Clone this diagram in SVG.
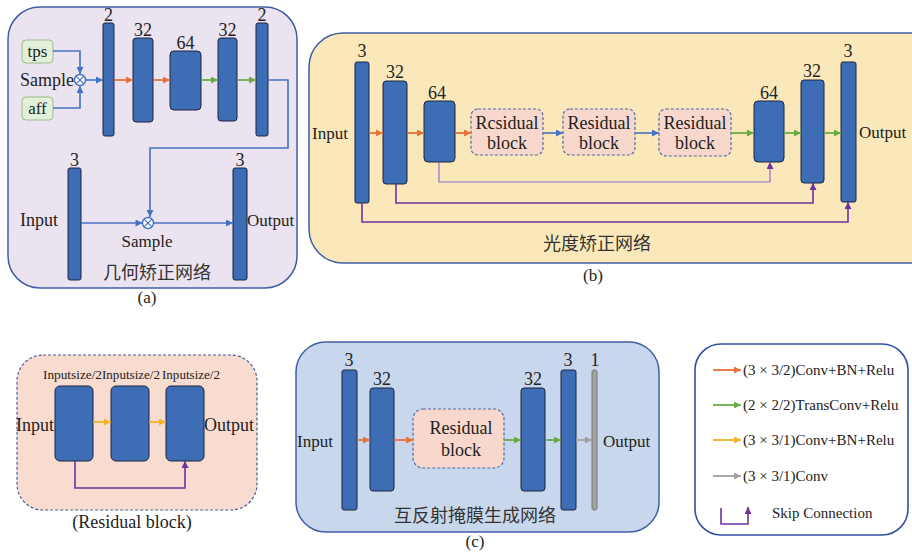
<svg xmlns="http://www.w3.org/2000/svg" width="912" height="555" viewBox="0 0 912 555">
<style>
text{font-family:"Liberation Serif","Times New Roman",serif;fill:#222;}
.t18{font-size:18px;font-family:"Liberation Serif","Times New Roman",serif;}
.t17{font-size:17px;font-family:"Liberation Serif","Times New Roman",serif;}
.t15{font-size:15px;font-family:"Liberation Serif","Times New Roman",serif;}
.t13{font-size:13px;font-family:"Liberation Serif","Times New Roman",serif;}
.cjk{font-family:"Noto Sans CJK SC",sans-serif;font-size:18px;fill:#333;}
.bar{fill:#3d6db5;stroke:#1c2540;stroke-width:1;}
.gbar{fill:#a3a3a3;stroke:#777;stroke-width:1;}
.res{fill:#f8d8cc;stroke:#5068a8;stroke-width:1.2;stroke-dasharray:3 2;}
.panel{stroke:#3f5fa5;stroke-width:1.5;}
.o{stroke:#e8703a;stroke-width:1.8;fill:none;marker-end:url(#mo);}
.g{stroke:#6aaa44;stroke-width:1.8;fill:none;marker-end:url(#mg);}
.y{stroke:#f2b328;stroke-width:1.8;fill:none;marker-end:url(#my);}
.gr{stroke:#a0a0a0;stroke-width:1.8;fill:none;marker-end:url(#mgr);}
.ba{stroke:#4472c4;stroke-width:1.6;fill:none;marker-end:url(#mb);}
.p{stroke:#7030a0;stroke-width:1.6;fill:none;marker-end:url(#mp);}
.pl{stroke:#8a6fd0;stroke-width:1.2;fill:none;marker-end:url(#mp);}
.mid{text-anchor:middle;}
</style>
<defs>
<marker id="mo" viewBox="0 0 10 10" refX="10" refY="5" markerWidth="8" markerHeight="7" markerUnits="userSpaceOnUse" orient="auto"><path d="M0,0L10,5L0,10z" fill="#e8703a"/></marker>
<marker id="mg" viewBox="0 0 10 10" refX="10" refY="5" markerWidth="8" markerHeight="7" markerUnits="userSpaceOnUse" orient="auto"><path d="M0,0L10,5L0,10z" fill="#6aaa44"/></marker>
<marker id="my" viewBox="0 0 10 10" refX="10" refY="5" markerWidth="8" markerHeight="7" markerUnits="userSpaceOnUse" orient="auto"><path d="M0,0L10,5L0,10z" fill="#f2b328"/></marker>
<marker id="mgr" viewBox="0 0 10 10" refX="10" refY="5" markerWidth="8" markerHeight="7" markerUnits="userSpaceOnUse" orient="auto"><path d="M0,0L10,5L0,10z" fill="#a0a0a0"/></marker>
<marker id="mb" viewBox="0 0 10 10" refX="10" refY="5" markerWidth="8" markerHeight="7" markerUnits="userSpaceOnUse" orient="auto"><path d="M0,0L10,5L0,10z" fill="#4472c4"/></marker>
<marker id="mp" viewBox="0 0 10 10" refX="10" refY="5" markerWidth="8" markerHeight="7" markerUnits="userSpaceOnUse" orient="auto"><path d="M0,0L10,5L0,10z" fill="#7030a0"/></marker>
</defs>
<rect width="912" height="555" fill="#ffffff"/>

<!-- Panel (a) -->
<g id="panel-a">
<rect class="panel" x="8" y="7" width="289" height="281" rx="32" fill="#ebe4f0"/>
<text class="cjk mid" x="157" y="279">几何矫正网络</text>
<text class="t17 mid" x="147" y="303">(a)</text>
</g>
<g id="a-tps"><rect x="22" y="40" width="31" height="23" rx="4" fill="#e2f0d9" stroke="#9bbb8a"/><text class="t17 mid" x="37.5" y="57">tps</text></g>
<g id="a-aff"><rect x="22" y="97" width="31" height="23" rx="4" fill="#e2f0d9" stroke="#9bbb8a"/><text class="t17 mid" x="37.5" y="114">aff</text></g>
<g id="a-sample1"><circle cx="80" cy="80" r="5.5" fill="#fff" stroke="#4472c4" stroke-width="1.4"/><path d="M76.1,76.1L83.9,83.9M83.9,76.1L76.1,83.9" stroke="#4472c4" stroke-width="1.2"/><text class="t18" x="74" y="86" text-anchor="end">Sample</text></g>
<g id="a-b1"><rect class="bar" x="103" y="23" width="11" height="113" rx="2"/><text class="t18 mid" x="108.5" y="21">2</text></g>
<g id="a-b2"><rect class="bar" x="133" y="38" width="20" height="84" rx="3"/><text class="t18 mid" x="143" y="36">32</text></g>
<g id="a-b3"><rect class="bar" x="170" y="51" width="31" height="59" rx="4"/><text class="t18 mid" x="185.5" y="49">64</text></g>
<g id="a-b4"><rect class="bar" x="218" y="38" width="19" height="83" rx="3"/><text class="t18 mid" x="227.5" y="36">32</text></g>
<g id="a-b5"><rect class="bar" x="256" y="23" width="12" height="113" rx="2"/><text class="t18 mid" x="262" y="21">2</text></g>
<g id="a-in"><rect class="bar" x="68" y="168" width="13" height="112" rx="2"/><text class="t18 mid" x="74.5" y="166">3</text><text class="t18" x="20" y="226">Input</text></g>
<g id="a-out"><rect class="bar" x="233" y="168" width="14" height="112" rx="2"/><text class="t18 mid" x="240" y="166">3</text><text class="t17" x="247" y="226">Output</text></g>
<g id="a-sample2"><circle cx="148" cy="223" r="5.5" fill="#fff" stroke="#4472c4" stroke-width="1.4"/><path d="M144.1,219.1L151.9,226.9M151.9,219.1L144.1,226.9" stroke="#4472c4" stroke-width="1.2"/><text class="t17 mid" x="147" y="247">Sample</text></g>

<!-- Panel (b) -->
<g id="panel-b">
<rect class="panel" x="309" y="33" width="640" height="230" rx="34" fill="#fbe8ba"/>
<text class="cjk mid" x="597" y="250">光度矫正网络</text>
<text class="t17 mid" x="593" y="281">(b)</text>
</g>
<g id="b-b1"><rect class="bar" x="355" y="62" width="14" height="141" rx="2"/><text class="t18 mid" x="362" y="57">3</text><text class="t17" x="312" y="139">Input</text></g>
<g id="b-b2"><rect class="bar" x="383" y="81" width="24" height="103" rx="3"/><text class="t18 mid" x="395" y="78">32</text></g>
<g id="b-b3"><rect class="bar" x="424" y="101" width="31" height="61" rx="4"/><text class="t18 mid" x="437" y="99">64</text></g>
<g id="b-r1"><rect class="res" x="471" y="109" width="72" height="46" rx="7"/><text class="t18 mid" x="507" y="129">Rcsidual</text><text class="t18 mid" x="507" y="149">block</text></g>
<g id="b-r2"><rect class="res" x="563" y="109" width="72" height="46" rx="7"/><text class="t18 mid" x="599" y="129">Residual</text><text class="t18 mid" x="599" y="149">block</text></g>
<g id="b-r3"><rect class="res" x="659" y="109" width="72" height="47" rx="7"/><text class="t18 mid" x="695" y="129">Residual</text><text class="t18 mid" x="695" y="149">block</text></g>
<g id="b-b4"><rect class="bar" x="754" y="101" width="30" height="61" rx="4"/><text class="t18 mid" x="769" y="99">64</text></g>
<g id="b-b5"><rect class="bar" x="801" y="80" width="23" height="103" rx="3"/><text class="t18 mid" x="812" y="77">32</text></g>
<g id="b-b6"><rect class="bar" x="841" y="62" width="15" height="140" rx="2"/><text class="t18 mid" x="848" y="57">3</text><text class="t17" x="859" y="138">Output</text></g>

<!-- Residual block panel -->
<g id="panel-res">
<rect x="17" y="355" width="240" height="155" rx="26" fill="#f8dccf" stroke="#4a5f9a" stroke-width="1.2" stroke-dasharray="3 2"/>
<text class="t18 mid" x="132" y="528">(Residual block)</text>
<text class="t18" x="16" y="431">Input</text>
<text class="t18" x="204" y="431">Output</text>
</g>
<g id="r-b1"><rect class="bar" x="55" y="386" width="38" height="75" rx="5"/><text class="t13 mid" x="72.5" y="379" textLength="59" lengthAdjust="spacingAndGlyphs">Inputsize/2</text></g>
<g id="r-b2"><rect class="bar" x="111" y="386" width="38" height="75" rx="5"/><text class="t13 mid" x="131" y="379" textLength="58" lengthAdjust="spacingAndGlyphs">Inputsize/2</text></g>
<g id="r-b3"><rect class="bar" x="166" y="386" width="38" height="75" rx="5"/><text class="t13 mid" x="191" y="379" textLength="58" lengthAdjust="spacingAndGlyphs">Inputsize/2</text></g>

<!-- Panel (c) -->
<g id="panel-c">
<rect class="panel" x="296" y="342" width="363" height="190" rx="30" fill="#c9d7ec"/>
<text class="cjk mid" x="475" y="522">互反射掩膜生成网络</text>
<text class="t17 mid" x="475" y="547">(c)</text>
</g>
<g id="c-b1"><rect class="bar" x="342" y="370" width="15" height="140" rx="2"/><text class="t18 mid" x="349" y="366">3</text><text class="t17" x="297" y="447">Input</text></g>
<g id="c-b2"><rect class="bar" x="370" y="388" width="24" height="103" rx="3"/><text class="t18 mid" x="382" y="385">32</text></g>
<g id="c-r"><rect class="res" x="413" y="409" width="91" height="59" rx="10"/><text class="t18 mid" x="461" y="434">Residual</text><text class="t18 mid" x="461" y="456">block</text></g>
<g id="c-b3"><rect class="bar" x="521" y="388" width="24" height="103" rx="3"/><text class="t18 mid" x="533" y="385">32</text></g>
<g id="c-b4"><rect class="bar" x="561" y="370" width="15" height="140" rx="2"/><text class="t18 mid" x="568" y="366">3</text></g>
<g id="c-b5"><rect class="gbar" x="592" y="370" width="5" height="140" rx="2"/><text class="t18 mid" x="595" y="366">1</text><text class="t17" x="603" y="447">Output</text></g>

<!-- Legend -->
<g id="legend">
<rect x="695" y="344" width="213" height="191" rx="26" fill="#ffffff" stroke="#2f4f9f" stroke-width="1.6"/>
<line class="o" x1="713" y1="370" x2="741" y2="370"/><text class="t15" x="743" y="375">(3 × 3/2)Conv+BN+Relu</text>
<line class="g" x1="713" y1="405" x2="741" y2="405"/><text class="t15" x="743" y="410">(2 × 2/2)TransConv+Relu</text>
<line class="y" x1="713" y1="440" x2="741" y2="440"/><text class="t15" x="743" y="445">(3 × 3/1)Conv+BN+Relu</text>
<line class="gr" x1="713" y1="476" x2="741" y2="476"/><text class="t15" x="743" y="481">(3 × 3/1)Conv</text>
<path class="p" d="M721,508V524H748V507"/><text class="t15" x="772" y="518">Skip Connection</text>
</g>

<!-- Connectors -->
<g id="connectors">
<path class="ba" d="M53,51H80V74"/>
<path class="ba" d="M53,108H80V86"/>
<line class="ba" x1="85.5" y1="80" x2="103" y2="80"/>
<line class="o" x1="114" y1="80" x2="133" y2="80"/>
<line class="o" x1="153" y1="80" x2="170" y2="80"/>
<line class="g" x1="201" y1="80" x2="218" y2="80"/>
<line class="g" x1="237" y1="80" x2="256" y2="80"/>
<path class="ba" d="M268,80H288V148H150V217"/>
<line class="ba" x1="81" y1="223" x2="142.5" y2="223"/>
<line class="ba" x1="153.5" y1="223" x2="233" y2="223"/>
<line class="o" x1="369" y1="133" x2="383" y2="133"/>
<line class="o" x1="407" y1="133" x2="424" y2="133"/>
<line class="o" x1="455" y1="133" x2="471" y2="133"/>
<line class="ba" x1="543" y1="133" x2="563" y2="133"/>
<line class="ba" x1="635" y1="133" x2="659" y2="133"/>
<line class="g" x1="731" y1="133" x2="754" y2="133"/>
<line class="g" x1="784" y1="133" x2="801" y2="133"/>
<line class="g" x1="824" y1="133" x2="841" y2="133"/>
<path class="pl" d="M439,162V182H770V162"/>
<path class="p" d="M396,184V203H813V183"/>
<path class="p" d="M362,203V222H848V202"/>
<line class="y" x1="93" y1="422" x2="111" y2="422"/>
<line class="y" x1="149" y1="422" x2="166" y2="422"/>
<path class="p" d="M75,461V488H185V461"/>
<line class="o" x1="357" y1="440" x2="370" y2="440"/>
<line class="o" x1="394" y1="440" x2="413" y2="440"/>
<line class="g" x1="504" y1="440" x2="521" y2="440"/>
<line class="g" x1="545" y1="440" x2="561" y2="440"/>
<line class="gr" x1="576" y1="440" x2="592" y2="440"/>
</g>
</svg>
